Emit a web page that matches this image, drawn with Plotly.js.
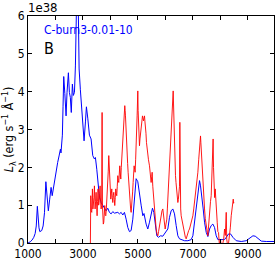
<!DOCTYPE html>
<html>
<head>
<meta charset="utf-8">
<script src="https://cdn.plot.ly/plotly-3.0.1.min.js"></script>
<style>html,body{margin:0;padding:0;background:#fff;}#chart{width:278px;height:263px;}</style>
</head>
<body>
<div id="chart"></div>
<script>
// Model spectrum (blue), wavelength in Angstrom, L in 1e38 erg/s/A
const blueX = [1000,1080,1150,1210,1260,1300,1340,1370,1400,1430,1500,1550,1600,1650,1690,1740,1790,1840,1880,1930,1980,2030,2080,2130,2180,2200,2250,2275,2300,2340,2385,2420,2470,2506,2540,2575,2615,2650,2690,2725,2745,2790,2830,2860,2905,2955,3005,3040,3090,3125,3175,3235,3295,3356,3417,3453,3502,3538,3599,3660,3720,3781,3842,3902,3963,4024,4085,4145,4206,4267,4327,4388,4449,4509,4570,4631,4692,4752,4813,4873,4934,4995,5056,5116,5177,5220,5298,5359,5420,5480,5529,5578,5626,5687,5747,5820,5905,5966,6027,6087,6148,6209,6269,6330,6391,6452,6512,6573,6694,6816,6937,6998,7059,7119,7180,7241,7277,7326,7374,7423,7484,7544,7605,7665,7726,7787,7848,7908,8030,8151,8212,8297,8370,8455,8576,8758,8940,9061,9183,9268,9365,9487,9669,9972];
const blueY = [0.0,0.03,0.08,0.15,0.25,0.45,0.97,0.6,0.4,0.3,0.33,0.45,0.8,1.62,1.25,0.85,1.16,1.47,1.25,1.5,1.68,1.95,2.13,2.3,2.48,2.38,2.85,3.6,4.4,3.95,3.36,3.98,4.5,3.98,3.85,3.45,4.2,3.9,3.98,4.68,7.0,7.3,6.2,4.6,4.05,3.54,2.92,2.7,3.2,3.6,3.3,2.85,2.75,2.31,2.22,2.26,1.95,1.6,1.21,1.07,0.99,0.9,0.85,0.92,0.81,0.77,0.83,0.79,0.81,0.81,0.77,0.81,0.74,0.81,0.63,0.41,0.3,0.33,0.63,1.25,1.7,1.62,1.25,1.0,0.72,0.78,0.5,0.37,0.55,0.81,0.92,0.81,0.46,0.19,0.15,0.19,0.18,0.24,0.28,0.37,0.68,0.85,0.9,0.77,0.46,0.19,0.11,0.09,0.06,0.06,0.09,0.19,0.55,0.99,1.34,1.65,1.51,1.25,0.9,0.55,0.28,0.17,0.37,0.46,0.5,0.41,0.19,0.09,0.09,0.09,0.15,0.24,0.24,0.15,0.06,0.04,0.06,0.12,0.19,0.18,0.11,0.05,0.04,0.04];

// Observed spectrum (red)
const redX = [3268,3283,3300,3320,3344,3362,3380,3400,3417,3441,3460,3477,3495,3514,3530,3550,3570,3587,3605,3623,3640,3660,3680,3696,3708,3720,3740,3757,3775,3793,3812,3830,3850,3866,3885,3902,3920,3939,3957,3975,3995,4012,4030,4048,4066,4085,4103,4121,4140,4157,4175,4194,4212,4230,4248,4267,4285,4303,4321,4339,4358,4376,4394,4412,4430,4449,4467,4485,4503,4521,4535,4546,4558,4570,4588,4606,4625,4643,4661,4679,4697,4716,4734,4752,4770,4788,4806,4825,4843,4861,4880,4898,4916,4934,4952,4970,4983,4995,5007,5019,5037,5056,5074,5092,5110,5129,5147,5165,5183,5201,5220,5238,5256,5274,5292,5310,5330,5347,5383,5420,5450,5480,5500,5517,5540,5565,5585,5602,5630,5663,5690,5723,5750,5784,5815,5845,5875,5905,5925,5942,5965,5990,6020,6051,6070,6087,6105,6124,6142,6160,6185,6209,6227,6245,6264,6282,6294,6306,6318,6330,6348,6366,6385,6403,6428,6452,6470,6488,6512,6524,6536,6555,6573,6600,6634,6665,6694,6725,6755,6785,6816,6846,6876,6906,6937,6968,6998,7030,7059,7090,7119,7150,7180,7210,7241,7260,7277,7290,7301,7320,7338,7360,7386,7405,7423,7450,7484,7515,7544,7560,7581,7600,7617,7640,7665,7690,7714,7735,7750,7770,7790,7811,7835,7860,7884,7908,7932,7969,8000,8030,8090,8120,8151,8180,8212,8230,8260,8297,8333,8360,8394,8420,8430,8455,8467,8480,8491];
const redY = [-0.2,1.25,0.85,0.81,1.43,0.9,0.99,1.2,1.51,0.9,1.1,1.34,0.8,0.72,1.1,1.43,1.0,1.07,1.3,1.51,1.1,0.9,1.0,3.45,1.0,0.72,0.5,0.55,0.9,0.99,0.75,0.72,0.9,1.07,1.3,1.6,1.9,2.31,2.0,1.78,1.4,1.16,1.3,1.43,1.2,1.07,1.25,1.34,1.15,0.99,1.2,1.43,1.3,1.25,1.5,1.78,1.65,1.6,1.85,2.04,1.85,1.69,2.0,2.22,2.4,2.66,2.9,3.19,3.4,3.63,3.5,3.36,3.1,2.83,2.6,2.31,2.1,1.87,1.6,1.43,1.2,1.07,0.9,0.81,0.95,1.07,1.35,1.6,1.8,2.04,1.95,1.87,2.2,2.48,2.9,3.36,3.7,4.02,3.5,3.1,2.8,2.57,2.75,2.92,3.05,3.19,3.3,3.36,3.3,3.23,3.3,3.36,3.2,3.1,2.9,2.66,2.5,2.31,2.2,2.04,1.8,1.6,1.75,1.87,1.5,1.25,0.95,0.72,0.5,0.37,0.25,0.19,0.3,0.46,0.6,0.72,0.85,0.9,0.75,0.63,0.5,0.37,0.5,0.63,0.9,1.16,1.3,1.43,1.7,2.04,2.35,2.66,3.0,3.36,3.7,4.02,3.7,3.36,2.8,2.31,2.0,1.78,1.6,1.43,1.25,1.07,1.15,1.25,1.5,3.19,1.07,0.9,0.72,0.6,0.46,0.35,0.24,0.15,0.11,0.2,0.28,0.33,0.37,0.45,0.55,0.65,0.72,0.9,1.07,1.25,1.43,1.65,1.87,2.2,2.48,2.65,2.83,2.65,2.48,2.2,1.95,1.7,1.43,1.15,0.9,0.65,0.46,0.3,0.19,0.35,0.55,0.8,1.07,1.1,1.25,1.8,2.4,2.75,2.0,1.6,1.2,1.43,1.0,0.72,0.55,0.3,0.28,-0.1,0.1,-0.05,0.0,0.1,0.37,0.2,0.81,0.1,-0.05,0.0,0.19,0.4,0.72,0.9,0.99,1.0,1.16,1.05,1.07];

const xTickStart = 1000;   // first tick (labelled)
const xTickStep = 1000;    // tick spacing; every second tick labelled
const yTickVals = [0,1,2,3,4,5,6];
const yTickText = ['0','1','2','3','4','5','6'];

const FONT = 'DejaVu Sans Condensed, DejaVu Sans, sans-serif';

const traces = [
  {x: blueX, y: blueY, type: 'scatter', mode: 'lines', line: {color: '#0000ff', width: 1}, hoverinfo: 'skip'},
  {x: redX, y: redY, type: 'scatter', mode: 'lines', line: {color: '#ff0000', width: 1}, opacity: 0.9, hoverinfo: 'skip'}
];

const axisCommon = {
  showgrid: false, zeroline: false, showline: true, linecolor: '#000', linewidth: 1,
  mirror: 'ticks', ticks: 'inside', ticklen: 4, tickwidth: 1, tickcolor: '#000',
  tickfont: {family: FONT, size: 12, color: '#000'}
};

const layout = {
  width: 278, height: 263,
  margin: {l: 28, r: 4, t: 16, b: 20, pad: 0},
  paper_bgcolor: '#fff', plot_bgcolor: '#fff',
  showlegend: false,
  font: {family: FONT, color: '#000'},
  xaxis: Object.assign({}, axisCommon, {
    range: [1000, 9950], tickmode: 'linear', tick0: xTickStart, dtick: xTickStep, ticklabelstep: 2, tickformat: 'd'
  }),
  yaxis: Object.assign({}, axisCommon, {
    range: [0, 6], tickmode: 'array', tickvals: yTickVals, ticktext: yTickText,
    title: {text: '<i>L</i><sub>λ</sub> (erg s<sup>−1</sup> Å<sup>−1</sup>)', font: {family: FONT, size: 12.5, color: '#000'}, standoff: 1}
  }),
  annotations: [
    {text: '1e38', xref: 'paper', yref: 'paper', x: 0, y: 1, xanchor: 'left', yanchor: 'bottom', showarrow: false, font: {family: FONT, size: 13, color: '#000'}, xshift: -2, yshift: -1},
    {text: 'C-burn3-0.01-10', xref: 'paper', yref: 'paper', x: 0.055, y: 0.94, xanchor: 'left', yanchor: 'middle', showarrow: false, font: {family: FONT, size: 12, color: '#0000ff'}},
    {text: 'B', xref: 'paper', yref: 'paper', x: 0.055, y: 0.858, xanchor: 'left', yanchor: 'middle', showarrow: false, font: {family: FONT, size: 16, color: '#000'}}
  ]
};

Plotly.newPlot('chart', traces, layout, {displayModeBar: false, staticPlot: true});
</script>
</body>
</html>
